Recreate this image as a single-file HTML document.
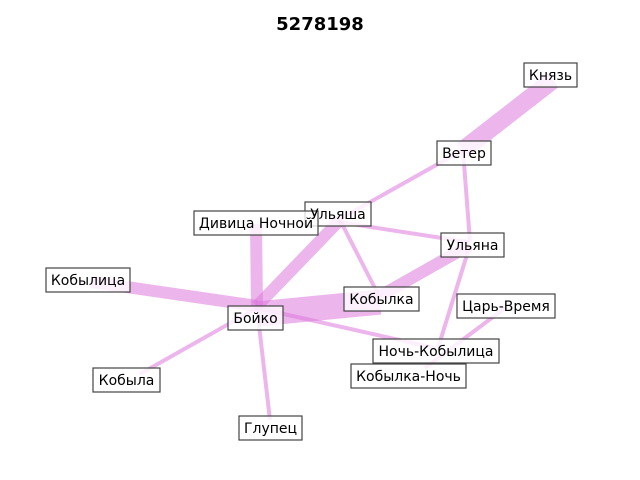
<!DOCTYPE html>
<html><head><meta charset="utf-8"><style>
html,body{margin:0;padding:0;background:#fff;width:640px;height:480px;overflow:hidden}
svg text{font-family:"DejaVu Sans","Liberation Sans",sans-serif;font-size:14px;fill:#000}
</style></head><body>
<svg width="640" height="480" xmlns="http://www.w3.org/2000/svg">
<rect width="640" height="480" fill="#fff"/>
<text x="320" y="30" text-anchor="middle" style="font-size:18px;font-weight:bold">5278198</text>
<g stroke="rgb(220,120,220)" stroke-opacity="0.55" stroke-linecap="butt" fill="none">
<line x1="553" y1="80" x2="463" y2="150" stroke-width="18"/>
<line x1="463" y1="150" x2="338" y2="220" stroke-width="4"/>
<line x1="463" y1="150" x2="470" y2="242" stroke-width="4"/>
<line x1="338" y1="222" x2="468" y2="242" stroke-width="4"/>
<line x1="340" y1="220" x2="380" y2="298" stroke-width="4"/>
<line x1="340" y1="220" x2="257" y2="306" stroke-width="12"/>
<line x1="256" y1="224" x2="257" y2="306" stroke-width="12"/>
<line x1="92" y1="282" x2="257" y2="306" stroke-width="12"/>
<line x1="257" y1="314" x2="380" y2="302" stroke-width="25"/>
<line x1="380" y1="296" x2="470" y2="245" stroke-width="12"/>
<line x1="257" y1="308" x2="435" y2="348" stroke-width="4"/>
<line x1="257" y1="308" x2="140" y2="374" stroke-width="4"/>
<line x1="257" y1="308" x2="270" y2="420" stroke-width="4"/>
<line x1="470" y1="245" x2="438" y2="348" stroke-width="4"/>
<line x1="505" y1="308" x2="425" y2="368" stroke-width="4"/>
</g>
<g fill="#fff" fill-opacity="0.8" stroke="#444" stroke-width="1.2">
<rect x="524" y="63" width="53" height="24"/>
<rect x="437" y="141" width="54" height="24"/>
<rect x="305" y="202" width="66" height="24"/>
<rect x="194" y="211" width="124" height="24"/>
<rect x="441" y="233" width="63" height="24"/>
<rect x="46" y="268" width="84" height="24"/>
<rect x="344" y="287" width="75" height="24"/>
<rect x="457" y="294" width="98" height="24"/>
<rect x="228" y="306" width="55" height="24"/>
<rect x="373" y="339" width="126" height="24"/>
<rect x="351" y="364" width="115" height="24"/>
<rect x="93" y="368" width="67" height="24"/>
<rect x="239" y="416" width="63" height="24"/>
</g>
<g text-anchor="middle">
<text x="550.5" y="80">Князь</text>
<text x="464" y="158">Ветер</text>
<text x="338" y="219">Ульяша</text>
<text x="256" y="228">Дивица Ночной</text>
<text x="472.5" y="250">Ульяна</text>
<text x="88" y="285">Кобылица</text>
<text x="381.5" y="304">Кобылка</text>
<text x="506" y="311">Царь-Время</text>
<text x="255.5" y="323">Бойко</text>
<text x="436" y="356">Ночь-Кобылица</text>
<text x="408.5" y="381">Кобылка-Ночь</text>
<text x="126.5" y="385">Кобыла</text>
<text x="270.5" y="433">Глупец</text>
</g>
</svg>
</body></html>
